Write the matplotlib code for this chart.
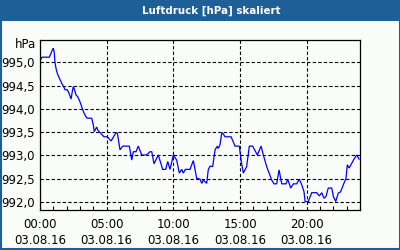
import matplotlib
matplotlib.use("Agg")
import matplotlib.pyplot as plt
from matplotlib.ticker import FuncFormatter, MultipleLocator, FixedLocator
from matplotlib.patches import Rectangle

title = "Luftdruck [hPa] skaliert"
unit = "hPa"
date_label = "03.08.16"
xtick_hours = [0, 5, 10, 15, 20]
xtick_labels = ["00:00", "05:00", "10:00", "15:00", "20:00"]
ytick_values = [992.0, 992.5, 993.0, 993.5, 994.0, 994.5, 995.0]

hours = [0.00, 0.15, 0.70, 0.95, 1.00, 1.07, 1.12, 1.20, 1.30, 1.45, 1.63, 1.80, 1.88, 2.05,
         2.18, 2.33, 2.42, 2.50, 2.63, 2.70, 2.83, 3.00, 3.17, 3.30, 3.45, 3.55, 3.88, 4.00,
         4.07, 4.25, 4.33, 4.50, 4.80, 5.05, 5.33, 5.70, 5.80, 6.00, 6.20, 6.70, 6.88, 7.00,
         7.20, 7.37, 7.63, 8.00, 8.25, 8.38, 8.55, 8.87, 9.20, 9.43, 9.58, 9.75, 10.00, 10.25,
         10.45, 10.63, 10.75, 10.90, 11.25, 11.50, 11.75, 12.00, 12.13, 12.25, 12.50, 12.62,
         12.75, 12.95, 13.13, 13.30, 13.37, 13.50, 13.63, 13.70, 13.88, 14.33, 14.63, 14.95,
         15.08, 15.25, 15.50, 15.70, 15.95, 16.30, 16.58, 16.75, 17.00, 17.38, 17.55, 17.75,
         17.93, 18.13, 18.45, 18.58, 18.80, 19.00, 19.25, 19.45, 19.63, 19.80, 19.88, 20.12,
         20.38, 20.75, 20.95, 21.13, 21.30, 21.45, 21.62, 21.88, 22.00, 22.18, 22.37, 22.55,
         22.75, 22.95, 23.05, 23.18, 23.38, 23.55, 23.75, 23.93]
pressure = [995.03, 995.11, 995.11, 995.28, 995.30, 995.21, 995.01, 994.87, 994.76, 994.66,
            994.55, 994.46, 994.41, 994.41, 994.33, 994.21, 994.37, 994.48, 994.37, 994.30,
            994.26, 994.15, 994.01, 993.91, 993.83, 993.80, 993.80, 993.65, 993.51, 993.61,
            993.55, 993.49, 993.40, 993.40, 993.31, 993.49, 993.48, 993.12, 993.20, 993.20,
            992.90, 993.08, 993.08, 993.20, 993.01, 993.01, 993.08, 993.08, 992.82, 993.01,
            992.70, 992.70, 992.87, 992.70, 993.01, 992.90, 992.62, 992.70, 992.62, 992.70,
            992.70, 992.89, 992.51, 992.49, 992.40, 992.47, 992.40, 992.69, 992.77, 992.76,
            993.12, 993.20, 993.15, 993.23, 993.48, 993.48, 993.40, 993.40, 993.20, 993.20,
            992.90, 992.62, 992.76, 993.20, 993.20, 993.01, 993.20, 993.01, 992.76, 992.47,
            992.39, 992.39, 992.69, 992.39, 992.39, 992.49, 992.30, 992.39, 992.39, 992.49,
            992.37, 992.22, 992.01, 992.01, 992.20, 992.20, 992.13, 992.20, 992.08, 992.12,
            992.30, 992.30, 992.12, 992.01, 992.19, 992.22, 992.37, 992.51, 992.80, 992.73,
            992.83, 992.92, 993.01, 992.92]

BLUE = "#1d5f96"
BG = "#fafcfa"

fig = plt.figure(figsize=(4, 2.5), dpi=100, facecolor=BG)
ax = fig.add_axes([0.1, 0.16, 0.8, 0.68])
ax.set_facecolor(BG)

ax.plot(hours, pressure, color="#0000ff", lw=0.9, solid_joinstyle="miter")

ax.set_xlim(0, 24)
ax.set_ylim(991.828, 995.479)

ax.xaxis.set_major_locator(FixedLocator(xtick_hours))
ax.xaxis.set_minor_locator(MultipleLocator(1))
ax.set_xticklabels([f"{t}\n{date_label}" for t in xtick_labels])
ax.yaxis.set_major_locator(FixedLocator(ytick_values))
ax.yaxis.set_major_formatter(FuncFormatter(lambda v, p: f"{v:.1f}".replace(".", ",")))

ax.tick_params(axis="x", which="both", direction="in", length=3, width=0.8,
               labelsize=8.5, pad=6, colors="black")
ax.tick_params(axis="x", which="major", length=0)
ax.tick_params(axis="y", which="both", length=0, labelsize=8.5, pad=4)
for lbl in ax.get_xticklabels():
    lbl.set_linespacing(1.3)

ax.grid(True, which="major", color="black", linestyle=(0, (3, 2)), linewidth=0.8)
for s in ax.spines.values():
    s.set_linewidth(0.9)
    s.set_color("black")

fig.text(36 / 400, 1 - 45 / 250, unit, ha="right", va="center", fontsize=8.5)

# title bar and frame
fig.patches.append(Rectangle((0, 1 - 21 / 250), 1, 21 / 250, transform=fig.transFigure,
                             facecolor=BLUE, edgecolor="none", zorder=0))
fig.patches.append(Rectangle((0.5 / 400, 1 / 250), 399 / 400, 248 / 250, transform=fig.transFigure,
                             facecolor="none", edgecolor=BLUE, linewidth=1.5, zorder=5))
fig.text(211 / 400, 1 - 10.5 / 250, title, ha="center", va="center", color="white",
         fontsize=7.4, fontweight="bold")

fig.savefig("out.png", dpi=100, facecolor=BG)
